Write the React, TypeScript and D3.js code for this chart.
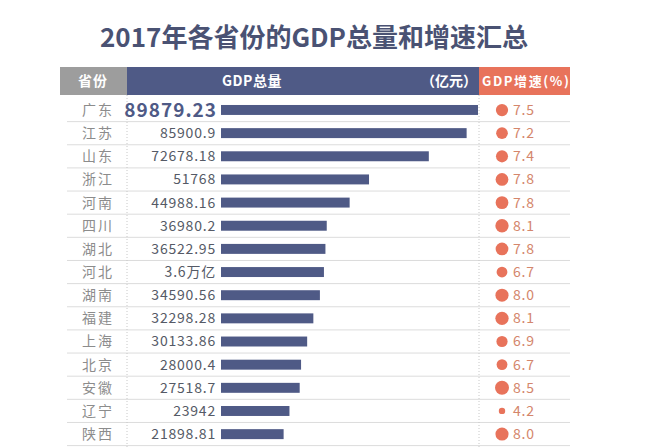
import React from "react";
import * as d3 from "d3";

const provinces = ["广东","江苏","山东","浙江","河南","四川","湖北","河北","湖南","福建","上海","北京","安徽","辽宁","陕西"];
const gdpValues = [89879.23,85900.9,72678.18,51768,44988.16,36980.2,36522.95,36000,34590.56,32298.28,30133.86,28000.4,27518.7,23942,21898.81];
const gdpLabels = ["89879.23","85900.9","72678.18","51768","44988.16","36980.2","36522.95","3.6万亿","34590.56","32298.28","30133.86","28000.4","27518.7","23942","21898.81"];
const growthValues = [7.5,7.2,7.4,7.8,7.8,8.1,7.8,6.7,8.0,8.1,6.9,6.7,8.5,4.2,8.0];
const growthLabels = ["7.5","7.2","7.4","7.8","7.8","8.1","7.8","6.7","8.0","8.1","6.9","6.7","8.5","4.2","8.0"];

const W = 658, H = 448;
const BLUE = "#4f5a86", GRAY = "#9d9d9d", ORANGE = "#e8735b";
const FONT = "'Noto Sans CJK SC','Noto Sans',sans-serif";

export default function App() {
  const y = d3.scaleBand<string>().domain(provinces).range([98.5, 98.5 + 15 * 23.14]).paddingInner(0.57).paddingOuter(0.28);
  const rowY = d3.scaleBand<string>().domain(provinces).range([98.5, 98.5 + 15 * 23.14]);
  const x = d3.scaleLinear().domain([0, 89879.23]).range([221, 478]);
  const r = d3.scaleLinear().domain([4.2, 8.5]).range([3.2, 7]);
  return (
    <svg width={W} height={H} style={{ position: "absolute", left: 0, top: 0, background: "#fff" }} fontFamily={FONT}>
      <text x={314} y={47} textAnchor="middle" fontSize={26} fontWeight="bold" fill="#4a5273">2017年各省份的GDP总量和增速汇总</text>
      <rect x={60} y={67} width={67} height={28} fill={GRAY} />
      <rect x={127} y={67} width={352} height={28} fill={BLUE} />
      <rect x={479} y={67} width={91} height={28} fill={ORANGE} />
      <text x={93} y={86} textAnchor="middle" fontSize={14} fontWeight="bold" fill="#fff" letterSpacing={1}>省份</text>
      <text x={252} y={86} textAnchor="middle" fontSize={14} fontWeight="bold" fill="#fff" letterSpacing={0.5}>GDP总量</text>
      <text x={477} y={86} textAnchor="end" fontSize={14} fontWeight="bold" fill="#fff">（亿元）</text>
      <text x={482} y={86} fontSize={13} fontWeight="bold" fill="#fff" letterSpacing={1.6}>GDP增速(%)</text>
      {provinces.map((p) => (
        <line key={"s" + p} x1={67} x2={570} y1={(rowY(p) as number) + rowY.bandwidth()} y2={(rowY(p) as number) + rowY.bandwidth()} stroke="#dcdcdc" strokeWidth={1} />
      ))}
      <line x1={127} x2={127} y1={95} y2={H} stroke="#c8c8c8" strokeDasharray="1,2" />
      <line x1={479} x2={479} y1={95} y2={H} stroke="#c8c8c8" strokeDasharray="1,2" />
      {provinces.map((p, i) => {
        const cy = (rowY(p) as number) + rowY.bandwidth() / 2;
        return (
          <g key={p}>
            <text x={98} y={cy + 5} textAnchor="middle" fontSize={14} fill="#8c8c8c" letterSpacing={2}>{p}</text>
            <rect x={x(0)} y={y(p)} width={x(gdpValues[i]) - x(0)} height={y.bandwidth()} fill={BLUE} />
            {i === 0 ? (
              <text x={217} y={cy + 6.5} textAnchor="end" fontSize={19} fontWeight="bold" fill={BLUE} letterSpacing={1}>{gdpLabels[i]}</text>
            ) : (
              <text x={216} y={cy + 5} textAnchor="end" fontSize={14} fill="#555a66" letterSpacing={0.8}>{gdpLabels[i]}</text>
            )}
            <circle cx={502} cy={cy} r={r(growthValues[i])} fill={ORANGE} />
            <text x={513} y={cy + 5} fontSize={14} fill="#d4866c" letterSpacing={0.8}>{growthLabels[i]}</text>
          </g>
        );
      })}
    </svg>
  );
}
